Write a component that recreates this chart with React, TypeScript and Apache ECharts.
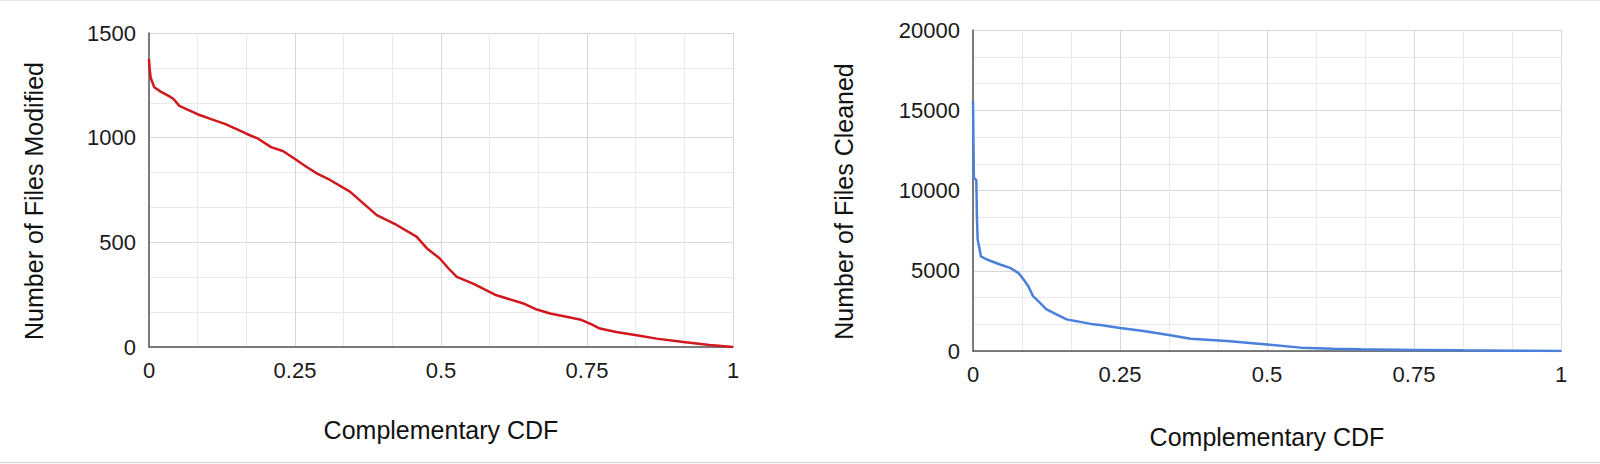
import React, { useEffect, useRef } from "react";
import * as echarts from "echarts";

// Left chart: Number of Files Modified vs Complementary CDF
const modifiedCcdf = [0, 0.001, 0.003, 0.009, 0.02, 0.035, 0.042, 0.052, 0.065, 0.083, 0.11, 0.131, 0.166, 0.187, 0.209, 0.23, 0.25, 0.27, 0.288, 0.31, 0.344, 0.367, 0.39, 0.424, 0.458, 0.476, 0.498, 0.513, 0.527, 0.555, 0.595, 0.641, 0.664, 0.687, 0.74, 0.758, 0.772, 0.8, 0.835, 0.869, 0.915, 0.96, 1];
const modifiedFiles = [1376, 1330, 1285, 1241, 1220, 1197, 1185, 1152, 1135, 1112, 1085, 1065, 1020, 995, 955, 935, 898, 860, 828, 798, 742, 686, 630, 583, 527, 471, 423, 375, 335, 303, 247, 208, 179, 160, 130, 108, 88, 72, 56, 40, 24, 10, 0];

// Right chart: Number of Files Cleaned vs Complementary CDF
const cleanedCcdf = [0, 0.0008, 0.0015, 0.0056, 0.0068, 0.0079, 0.0113, 0.0135, 0.0236, 0.046, 0.063, 0.077, 0.086, 0.094, 0.102, 0.114, 0.125, 0.142, 0.159, 0.176, 0.204, 0.2165, 0.25, 0.29, 0.333, 0.37, 0.432, 0.5, 0.557, 0.613, 0.659, 0.75, 0.833, 0.916, 1];
const cleanedFiles = [15600, 13000, 10800, 10650, 8200, 6950, 6320, 5900, 5700, 5390, 5180, 4870, 4460, 4040, 3420, 3000, 2590, 2280, 1970, 1860, 1660, 1620, 1430, 1250, 1000, 760, 630, 400, 210, 145, 104, 70, 40, 20, 0];

const xTickValues = [0, 0.25, 0.5, 0.75, 1];
const leftYMax = 1500;
const leftYStep = 500;
const rightYMax = 20000;
const rightYStep = 5000;

const FONT = "'Liberation Sans', Arial, sans-serif";

function pairs(xs: number[], ys: number[]) {
  return xs.map((x, i) => [x, ys[i]]);
}

function xAxisCfg(gridIndex: number, gap: number) {
  return {
    type: "value",
    gridIndex,
    min: xTickValues[0],
    max: xTickValues[xTickValues.length - 1],
    interval: 0.25,
    name: "Complementary CDF",
    nameLocation: "middle",
    nameGap: gap,
    nameTextStyle: { fontFamily: FONT, fontSize: 25, color: "#111" },
    axisLine: { show: true, lineStyle: { color: "#555", width: 1.5 } },
    axisTick: { show: false },
    axisLabel: { fontFamily: FONT, fontSize: 22, color: "#1a1a1a", margin: 12 },
    splitLine: { show: true, lineStyle: { color: "#d6d6d6", width: 1 } },
    minorTick: { show: false, splitNumber: 3 },
    minorSplitLine: { show: true, lineStyle: { color: "#e9e9e9", width: 1 } },
  };
}

function yAxisCfg(gridIndex: number, name: string, max: number, step: number, gap: number) {
  return {
    type: "value",
    gridIndex,
    min: 0,
    max,
    interval: step,
    name,
    nameLocation: "middle",
    nameGap: gap,
    nameTextStyle: { fontFamily: FONT, fontSize: 25, color: "#111", padding: [0, 22, 0, 0] },
    axisLine: { show: true, lineStyle: { color: "#555", width: 1.5 } },
    axisTick: { show: false },
    axisLabel: { fontFamily: FONT, fontSize: 22, color: "#1a1a1a", margin: 13, formatter: (v: number) => String(v) },
    splitLine: { show: true, lineStyle: { color: "#d6d6d6", width: 1 } },
    minorTick: { show: false, splitNumber: 3 },
    minorSplitLine: { show: true, lineStyle: { color: "#e9e9e9", width: 1 } },
  };
}

export default function App() {
  const ref = useRef<HTMLDivElement>(null);
  useEffect(() => {
    document.body.style.margin = "0";
    if (!ref.current) return;
    const chart = echarts.init(ref.current, undefined, { renderer: "svg" });
    chart.setOption({
      animation: false,
      backgroundColor: "#ffffff",
      grid: [
        { left: 149, top: 33, width: 584, height: 314 },
        { left: 973, top: 30, width: 588, height: 321 },
      ],
      xAxis: [xAxisCfg(0, 70), xAxisCfg(1, 73)],
      yAxis: [
        yAxisCfg(0, "Number of Files Modified", leftYMax, leftYStep, 103),
        yAxisCfg(1, "Number of Files Cleaned", rightYMax, rightYStep, 117),
      ],
      graphic: [
        { type: "line", shape: { x1: 0, y1: 0.5, x2: 1600, y2: 0.5 }, style: { stroke: "#e6e6e6", lineWidth: 1 } },
        { type: "line", shape: { x1: 0, y1: 462.5, x2: 1600, y2: 462.5 }, style: { stroke: "#d9d9d9", lineWidth: 1.5 } },
      ],
      series: [
        {
          type: "line",
          xAxisIndex: 0,
          yAxisIndex: 0,
          data: pairs(modifiedCcdf, modifiedFiles),
          showSymbol: false,
          lineStyle: { color: "#d0191e", width: 2.5 },
          itemStyle: { color: "#d0191e" },
        },
        {
          type: "line",
          xAxisIndex: 1,
          yAxisIndex: 1,
          data: pairs(cleanedCcdf, cleanedFiles),
          showSymbol: false,
          lineStyle: { color: "#4a80dc", width: 2.5 },
          itemStyle: { color: "#4a80dc" },
        },
      ],
    });
    return () => chart.dispose();
  }, []);
  return <div ref={ref} style={{ width: 1600, height: 464 }} />;
}
